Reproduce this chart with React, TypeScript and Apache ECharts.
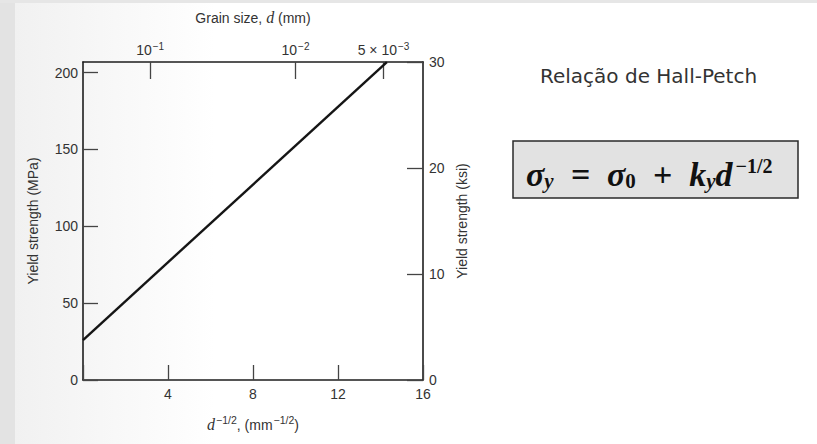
import React, { useEffect, useRef } from "react";
import * as echarts from "echarts";

// Inverse square root of grain size, d^-1/2 (mm^-1/2)
const grainX: number[] = [0, 14.3];
// Yield strength (MPa) along the Hall-Petch line
const yieldMPa: number[] = [26, 206.8];

// Bottom axis ticks (d^-1/2)
const bottomTicks: number[] = [0, 4, 8, 12, 16];
// Top axis: grain size d (mm) placed at d^-1/2
const grainSizes: number[] = [0.1, 0.01, 0.005];
const grainSizeLabels: string[] = ["{b|10}{sup|−1}", "{b|10}{sup|−2}", "{b|5 × 10}{sup|−3}"];
// Left axis (MPa) and right axis (ksi)
const mpaTicks: number[] = [0, 50, 100, 150, 200];
const ksiTicks: number[] = [0, 10, 20, 30];
const KSI_TO_MPA = 6.894757;

const SANS = "'Liberation Sans', Arial, sans-serif";
const SERIF = "'Liberation Serif', 'DejaVu Serif', serif";
const AXIS = "#1e1e1e";
const LABEL = "#333333";

const topPositions = grainSizes.map((d) => 1 / Math.sqrt(d));

export default function App() {
  const ref = useRef<HTMLDivElement>(null);

  useEffect(() => {
    if (!ref.current) return;
    const chart = echarts.init(ref.current, undefined, { renderer: "svg" });

    const axisLine = { show: true, onZero: false, lineStyle: { color: AXIS, width: 1.6 } };
    const tickStyle = { color: "#444", width: 1.3 };
    const supRich = {
      b: { fontFamily: SANS, fontSize: 14, color: LABEL, verticalAlign: "bottom" },
      sup: { fontFamily: SANS, fontSize: 10, color: LABEL, verticalAlign: "bottom", padding: [0, 0, 6, 1] },
    };
    const nameRich = {
      i: { fontFamily: SERIF, fontStyle: "italic", fontSize: 16, color: LABEL, verticalAlign: "bottom" },
      t: { fontFamily: SANS, fontSize: 14, color: LABEL, verticalAlign: "bottom" },
      sup: { fontFamily: SANS, fontSize: 10.5, color: LABEL, verticalAlign: "bottom", padding: [0, 0, 7, 1] },
    };

    chart.setOption({
      animation: false,
      backgroundColor: "#ffffff",
      grid: { left: 83, right: 394, top: 62, bottom: 64, containLabel: false },
      xAxis: [
        {
          type: "value",
          position: "bottom",
          min: 0,
          max: 16,
          interval: 4,
          axisLine,
          splitLine: { show: false },
          axisTick: { inside: true, length: 15, lineStyle: tickStyle, customValues: bottomTicks },
          axisLabel: {
            margin: 7,
            fontFamily: SANS,
            fontSize: 14,
            color: LABEL,
            customValues: bottomTicks,
            formatter: (v: number) => (v === 0 ? "" : String(v)),
          },
          name: "{i|d}{sup|−1/2}{t|, (mm}{sup|−1/2}{t|)}",
          nameLocation: "middle",
          nameGap: 34,
          nameTextStyle: { rich: nameRich },
        },
        {
          type: "value",
          position: "top",
          min: 0,
          max: 16,
          axisLine,
          splitLine: { show: false },
          axisTick: { inside: true, length: 17, lineStyle: tickStyle, customValues: topPositions },
          axisLabel: {
            margin: 5,
            customValues: topPositions,
            formatter: (v: number) => {
              let best = 0;
              topPositions.forEach((p, i) => {
                if (Math.abs(p - v) < Math.abs(topPositions[best] - v)) best = i;
              });
              return grainSizeLabels[best];
            },
            rich: supRich,
          },
          name: "{t|Grain size, }{i|d}{t| (mm)}",
          nameLocation: "middle",
          nameGap: 37,
          nameTextStyle: { rich: nameRich },
        },
      ],
      yAxis: [
        {
          type: "value",
          position: "left",
          min: 0,
          max: 30 * KSI_TO_MPA,
          axisLine,
          splitLine: { show: false },
          axisTick: { inside: true, length: 15, lineStyle: tickStyle, customValues: mpaTicks },
          axisLabel: { margin: 5, fontFamily: SANS, fontSize: 14, color: LABEL, customValues: mpaTicks },
          name: "Yield strength (MPa)",
          nameLocation: "middle",
          nameGap: 43,
          nameTextStyle: { fontFamily: SANS, fontSize: 14, color: LABEL },
        },
        {
          type: "value",
          position: "right",
          min: 0,
          max: 30,
          interval: 10,
          axisLine,
          splitLine: { show: false },
          axisTick: { inside: true, length: 16, lineStyle: tickStyle, customValues: ksiTicks },
          axisLabel: { margin: 6, fontFamily: SANS, fontSize: 14, color: LABEL, customValues: ksiTicks },
          name: "Yield strength (ksi)",
          nameLocation: "middle",
          nameGap: 32,
          nameTextStyle: { fontFamily: SANS, fontSize: 14, color: LABEL },
        },
      ],
      series: [
        {
          type: "line",
          xAxisIndex: 0,
          yAxisIndex: 0,
          data: grainX.map((x, i) => [x, yieldMPa[i]]),
          showSymbol: false,
          symbol: "none",
          clip: false,
          lineStyle: { color: "#151515", width: 2.4 },
          z: 5,
        },
      ],
      graphic: [
        // scanned-page margins
        {
          type: "rect",
          z: -10,
          silent: true,
          shape: { x: 0, y: 0, width: 15, height: 444 },
          style: { fill: "#e3e3e3" },
        },
        {
          type: "rect",
          z: -10,
          silent: true,
          shape: { x: 0, y: 0, width: 817, height: 3 },
          style: { fill: "#e6e6e6" },
        },
        {
          type: "rect",
          z: -10,
          silent: true,
          shape: { x: 15, y: 3, width: 200, height: 441 },
          style: {
            fill: new echarts.graphic.LinearGradient(0, 0, 1, 0, [
              { offset: 0, color: "#f1f1f1" },
              { offset: 1, color: "#ffffff" },
            ]),
          },
        },
        {
          type: "text",
          left: 540,
          top: 66,
          style: {
            text: "Relação de Hall-Petch",
            fontFamily: "'DejaVu Sans', Verdana, sans-serif",
            fontSize: 20,
            fill: "#333333",
          },
        },
        {
          type: "rect",
          shape: { x: 513, y: 141, width: 285, height: 57 },
          style: { fill: "#e2e2e2", stroke: "#2a2a2a", lineWidth: 1.5 },
        },
        {
          type: "text",
          x: 526,
          y: 156,
          style: {
            text: "{s|σ}{sub|y}{s|  =  σ}{sub0|0}{s|  +  k}{sub|y}{s|d}{sup|−1/2}",
            rich: {
              s: { fontFamily: SERIF, fontStyle: "italic", fontWeight: "bold", fontSize: 34, fill: "#111", verticalAlign: "bottom" },
              sub: { fontFamily: SERIF, fontStyle: "italic", fontWeight: "bold", fontSize: 21, fill: "#111", verticalAlign: "bottom" },
              sub0: { fontFamily: SERIF, fontWeight: "bold", fontSize: 21, fill: "#111", verticalAlign: "bottom" },
              sup: { fontFamily: SERIF, fontWeight: "bold", fontSize: 20, fill: "#111", verticalAlign: "bottom", padding: [0, 0, 15, 3] },
            },
          },
        },
      ],
    });

    return () => chart.dispose();
  }, []);

  return (
    <div
      ref={ref}
      style={{ position: "fixed", left: 0, top: 0, width: 817, height: 444 }}
    />
  );
}
